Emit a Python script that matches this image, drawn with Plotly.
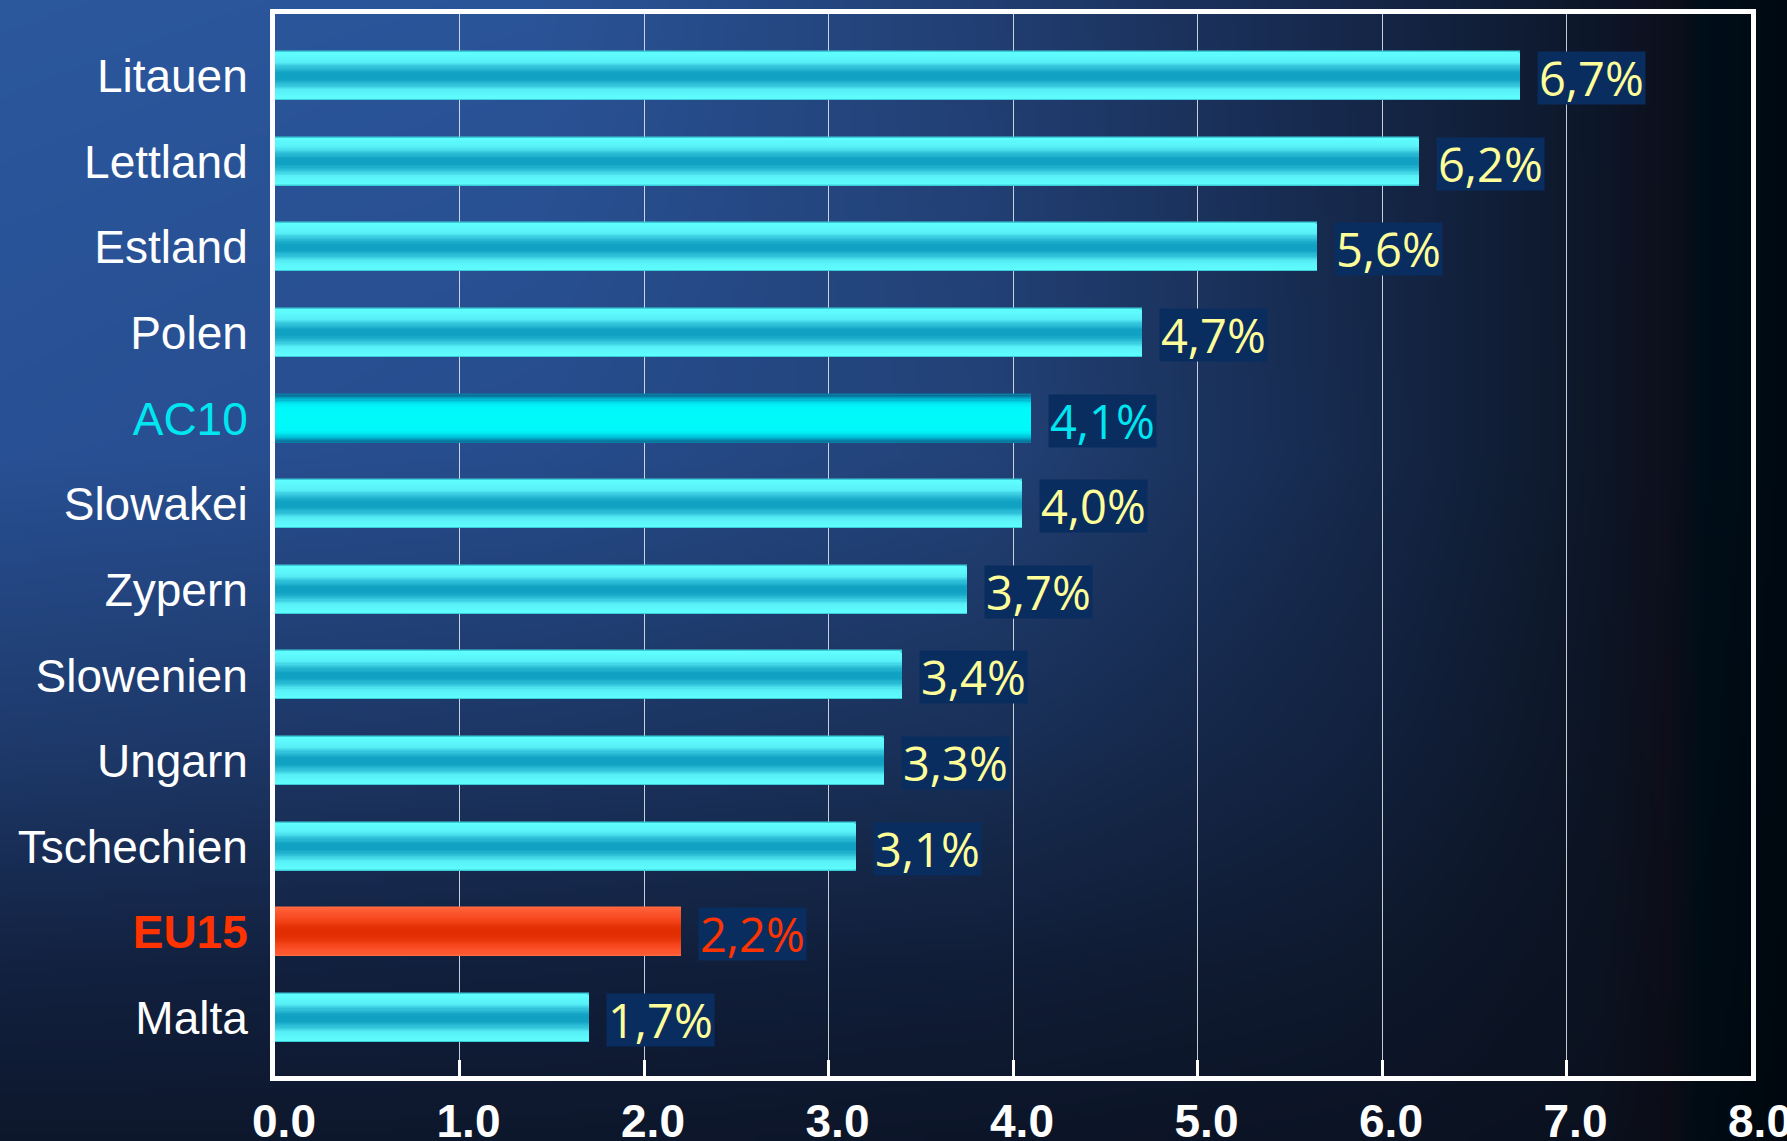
import base64, struct, zlib
import plotly.graph_objects as go

# ---------------- data ----------------
categories = ["Litauen", "Lettland", "Estland", "Polen", "AC10", "Slowakei",
              "Zypern", "Slowenien", "Ungarn", "Tschechien", "EU15", "Malta"]
values = [6.75, 6.2, 5.65, 4.7, 4.1, 4.05, 3.75, 3.4, 3.3, 3.15, 2.2, 1.7]
value_labels = ["6,7%", "6,2%", "5,6%", "4,7%", "4,1%", "4,0%",
                "3,7%", "3,4%", "3,3%", "3,1%", "2,2%", "1,7%"]
x_tick_vals = [0, 1, 2, 3, 4, 5, 6, 7, 8]
x_tick_text = ["0.0", "1.0", "2.0", "3.0", "4.0", "5.0", "6.0", "7.0", "8.0"]
highlight = {"AC10": "ac10", "EU15": "eu15"}

# ---------------- style ----------------
W, H = 1787, 1141
ML, MR, MT, MB = 275, 36, 14, 65
PW, PH = W - ML - MR, H - MT - MB

def lerp(a, b, t):
    return tuple(a[i] + (b[i] - a[i]) * t for i in range(3))

def interp_stops(stops, s):
    for i in range(len(stops) - 1):
        s0, c0 = stops[i]
        s1, c1 = stops[i + 1]
        if s <= s1:
            t = 0 if s1 == s0 else (s - s0) / (s1 - s0)
            return lerp(c0, c1, max(0.0, min(1.0, t)))
    return stops[-1][1]

# background gradient grid (u across, v down)
bg_cols = [0.0, 0.3, 0.55, 0.75, 0.9, 0.935, 0.955, 1.0]
bg_rows = [0.0, 0.4, 0.65, 0.85, 1.0]
bg_grid = [
    [(43, 87, 157), (40, 80, 148), (30, 58, 108), (18, 33, 64), (13, 23, 44)],
    [(42, 84, 152), (38, 76, 140), (28, 54, 100), (17, 31, 60), (13, 23, 44)],
    [(33, 62, 114), (34, 66, 120), (25, 48, 88), (16, 29, 55), (12, 21, 40)],
    [(22, 40, 75), (22, 42, 78), (18, 34, 64), (14, 25, 46), (11, 19, 36)],
    [(12, 22, 40), (12, 22, 38), (12, 20, 35), (11, 18, 32), (10, 16, 30)],
    [(14, 15, 28), (14, 15, 28), (13, 14, 26), (12, 13, 24), (11, 12, 22)],
    [(0, 14, 25), (0, 14, 25), (0, 13, 23), (0, 12, 21), (0, 11, 20)],
    [(0, 9, 18), (0, 9, 18), (0, 8, 16), (0, 8, 15), (0, 7, 14)],
]

def bg_color(u, v):
    col_stops = []
    for ci, cu in enumerate(bg_cols):
        col_stops.append((cu, interp_stops(list(zip(bg_rows, bg_grid[ci])), v)))
    return interp_stops(col_stops, u)

def make_png(w, h, fn):
    raw = bytearray()
    for j in range(h):
        raw.append(0)
        for i in range(w):
            r, g, b = fn(i / (w - 1), j / (h - 1))
            raw += bytes((int(round(r)), int(round(g)), int(round(b))))
    def chunk(tag, data):
        c = struct.pack(">I", len(data)) + tag + data
        return c + struct.pack(">I", zlib.crc32(tag + data) & 0xffffffff)
    png = b"\x89PNG\r\n\x1a\n"
    png += chunk(b"IHDR", struct.pack(">IIBBBBB", w, h, 8, 2, 0, 0, 0))
    png += chunk(b"IDAT", zlib.compress(bytes(raw), 9))
    png += chunk(b"IEND", b"")
    return "data:image/png;base64," + base64.b64encode(png).decode()

bg_src = make_png(358, 228, bg_color)

profiles = {
    "normal": [(0.0, (16, 160, 194)), (0.15, (18, 163, 196)), (0.4, (50, 195, 218)),
               (0.62, (88, 240, 248)), (1.0, (96, 254, 254))],
    "ac10": [(0.0, (0, 250, 250)), (0.5, (0, 248, 250)), (0.68, (0, 228, 240)),
             (0.85, (0, 170, 200)), (1.0, (10, 110, 150))],
    "eu15": [(0.0, (225, 45, 0)), (0.2, (226, 46, 2)), (0.6, (248, 72, 32)),
             (1.0, (255, 95, 55))],
}
outline = {"normal": "#3ccbd8", "ac10": "#0a7fa5", "eu15": "#ff6a40"}
label_colors = {"normal": "#ffff99", "ac10": "#00e6f0", "eu15": "#ff3300"}

def rgb(c):
    return "rgb(%d,%d,%d)" % tuple(int(round(x)) for x in c)

kinds = [highlight.get(c, "normal") for c in categories]

BAR_W = 0.56
N_LAYERS = 20

fig = go.Figure()
for k in range(N_LAYERS):
    frac = 1 - k / N_LAYERS
    fig.add_trace(go.Bar(
        x=values, y=categories, orientation="h",
        width=BAR_W * frac,
        marker=dict(
            color=[rgb(interp_stops(profiles[kd], frac)) for kd in kinds],
            line=dict(color=[outline[kd] for kd in kinds], width=1.5 if k == 0 else 0),
        ),
        hoverinfo="skip", showlegend=False,
    ))

# value labels
for cat, val, lab, kd in zip(categories, values, value_labels, kinds):
    fig.add_annotation(
        x=val, y=cat, xref="x", yref="y", text=lab, showarrow=False,
        xanchor="left", yanchor="middle", xshift=17, yshift=-2,
        height=50, valign="middle",
        font=dict(family="Open Sans, Noto Sans, sans-serif", size=47,
                  color=label_colors[kd]),
        bgcolor="#0a2d60", borderpad=1,
    )

def cat_label(c, kd):
    if kd == "ac10":
        return "<span style='color:#00e6f0'>%s</span>" % c
    if kd == "eu15":
        return "<span style='color:#ff3300'><b>%s</b></span>" % c
    return c

fig.update_layout(
    width=W, height=H,
    margin=dict(l=ML, r=MR, t=MT, b=MB, pad=0, autoexpand=False),
    paper_bgcolor="#0c1a33",
    plot_bgcolor="rgba(0,0,0,0)",
    barmode="overlay",
    bargap=0,
    images=[dict(source=bg_src, xref="paper", yref="paper",
                 x=-ML / PW, y=1 + MT / PH, sizex=W / PW, sizey=H / PH,
                 xanchor="left", yanchor="top", sizing="stretch", layer="below")],
    xaxis=dict(
        range=[0, 8], tickvals=x_tick_vals, ticktext=x_tick_text,
        showgrid=True, gridcolor="rgba(230,235,245,0.85)", gridwidth=1,
        zeroline=False, automargin=False, ticklabeloverflow="allow",
        showline=True, linecolor="white", linewidth=5, mirror=True,
        ticks="inside", ticklen=16, tickwidth=3, tickcolor="white",
        tickfont=dict(family="Liberation Sans, Arial, sans-serif",
                      size=46, color="white", weight="bold"),
        ticklabelstandoff=1, ticklabelshift=9,
        fixedrange=True,
    ),
    yaxis=dict(
        type="category", categoryorder="array", categoryarray=categories[::-1],
        range=[-0.678, 11.724], automargin=False,
        tickvals=categories, ticktext=[cat_label(c, kd) for c, kd in zip(categories, kinds)],
        showgrid=False, zeroline=False,
        showline=True, linecolor="white", linewidth=5, mirror=True,
        ticks="", ticklabelstandoff=13,
        tickfont=dict(family="Liberation Sans, Arial, sans-serif", size=46, color="white"),
        fixedrange=True,
    ),
)

fig.write_html("out.html", config={"displayModeBar": False},
               post_script="document.body.style.margin='0';")
